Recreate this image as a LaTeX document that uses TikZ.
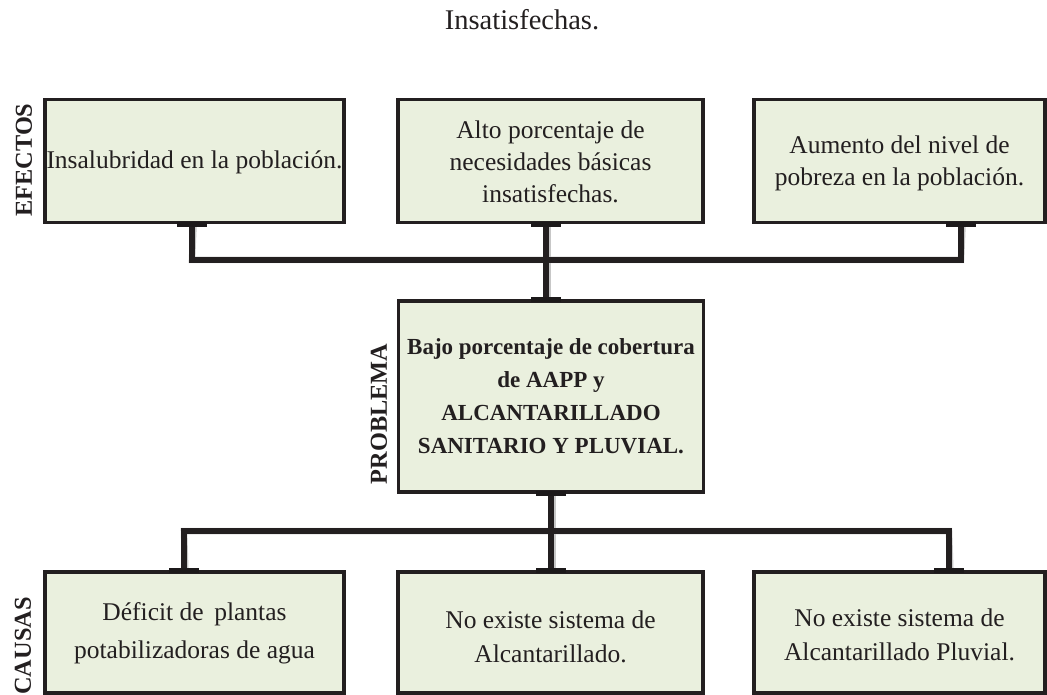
\documentclass[tikz,border=0pt]{standalone}
\usepackage{fontspec}
\setmainfont{Liberation Serif}
\definecolor{ink}{HTML}{231F20}
\definecolor{boxfill}{HTML}{EAF0DE}
\begin{document}
\begin{tikzpicture}[x=1pt,y=-1pt,
  box/.style={draw=ink, line width=3.5pt, fill=boxfill, inner sep=0pt},
  boxtext/.style={align=center, text=ink, inner sep=0pt, font=\fontsize{25.5}{32}\selectfont},
  probtext/.style={boxtext, font=\bfseries\fontsize{23}{33}\selectfont},
  sidelabel/.style={rotate=90, text=ink, font=\bfseries\fontsize{24.3}{28}\selectfont, inner sep=0pt},
  conn/.style={draw=ink, line width=6.5pt, line cap=rect, line join=miter},
  connshadow/.style={draw=black!22, line width=6.5pt, line cap=rect, line join=miter},
  tick/.style={draw=ink!80!black, line width=5pt},
]
\useasboundingbox (0,0) rectangle (1047,695);

% title
\node[anchor=base, text=ink, font=\fontsize{28.5}{32}\selectfont, inner sep=0pt] (title) at (522,30) {Insatisfechas.};

% side labels
\node[sidelabel] (lef) at (24,160) {EFECTOS};
\node[sidelabel] (lpr) at (379,414) {PROBLEMA};
\node[sidelabel] (lca) at (23,646) {CAUSAS};

% junction coordinates
\coordinate (j1) at (192,260);
\coordinate (j2) at (546,260);
\coordinate (j3) at (961,260);
\coordinate (k1) at (184,531);
\coordinate (k2) at (551,531);
\coordinate (k3) at (949,531);

% connector shadows
\begin{scope}[shift={(1.5,3)}]
\path[connshadow] (192,223) -- (j1) -- (j3) -- (961,223);
\path[connshadow] (546,223) -- (546,301);
\path[connshadow] (551,492) -- (551,572);
\path[connshadow] (184,572) -- (k1) -- (k3) -- (949,572);
\end{scope}

% boxes
\node[box, minimum width=299pt, minimum height=123pt] (e1) at (194.5,161) {};
\node[box, minimum width=305pt, minimum height=123pt] (e2) at (550.5,161) {};
\node[box, minimum width=291pt, minimum height=123pt] (e3) at (899.5,161) {};
\node[box, minimum width=305pt, minimum height=191pt] (p) at (551,396.5) {};
\node[box, minimum width=299pt, minimum height=121pt] (c1) at (194.5,632.5) {};
\node[box, minimum width=305pt, minimum height=121pt] (c2) at (550.5,632.5) {};
\node[box, minimum width=291pt, minimum height=121pt] (c3) at (899.5,632.5) {};

% box texts
\node[boxtext] (e1t) at ([yshift=-1pt]e1.center) {Insalubridad en la población.};
\node[boxtext] (e2t) at ([yshift=-0.5pt]e2.center) {Alto porcentaje de\\necesidades básicas\\insatisfechas.};
\node[boxtext] (e3t) at ([yshift=-2.5pt]e3.center) {Aumento del nivel de\\pobreza en la población.};
\node[probtext] (pt) at (p.center) {Bajo porcentaje de cobertura\\de AAPP y\\ALCANTARILLADO\\SANITARIO Y PLUVIAL.};
\node[boxtext, font=\fontsize{25.5}{38}\selectfont] (c1t) at ([yshift=-1pt]c1.center) {Déficit de\, plantas\\potabilizadoras de agua};
\node[boxtext, font=\fontsize{25.5}{34}\selectfont] (c2t) at ([yshift=-4pt]c2.center) {No existe sistema de\\Alcantarillado.};
\node[boxtext, font=\fontsize{25.5}{34}\selectfont] (c3t) at ([yshift=-2pt]c3.center) {No existe sistema de\\Alcantarillado Pluvial.};

% connectors
\draw[conn] (e1.south -| j1) -- (j1) -- (j3) -- (e3.south -| j3);
\draw[conn] (e2.south -| j2) -- (p.north -| j2);
\draw[conn] (p.south -| k2) -- (c2.north -| k2);
\draw[conn] (c1.north -| k1) -- (k1) -- (k3) -- (c3.north -| k3);

% ticks where connectors meet boxes
\draw[tick] ([xshift=-15pt]e1.south -| j1) -- ([xshift=15pt]e1.south -| j1);
\draw[tick] ([xshift=-15pt]e2.south -| j2) -- ([xshift=15pt]e2.south -| j2);
\draw[tick] ([xshift=-15pt]e3.south -| j3) -- ([xshift=15pt]e3.south -| j3);
\draw[tick] ([xshift=-15pt]p.north -| j2) -- ([xshift=15pt]p.north -| j2);
\draw[tick] ([xshift=-15pt]p.south -| k2) -- ([xshift=15pt]p.south -| k2);
\draw[tick] ([xshift=-15pt]c1.north -| k1) -- ([xshift=15pt]c1.north -| k1);
\draw[tick] ([xshift=-15pt]c2.north -| k2) -- ([xshift=15pt]c2.north -| k2);
\draw[tick] ([xshift=-15pt]c3.north -| k3) -- ([xshift=15pt]c3.north -| k3);
\end{tikzpicture}
\end{document}
